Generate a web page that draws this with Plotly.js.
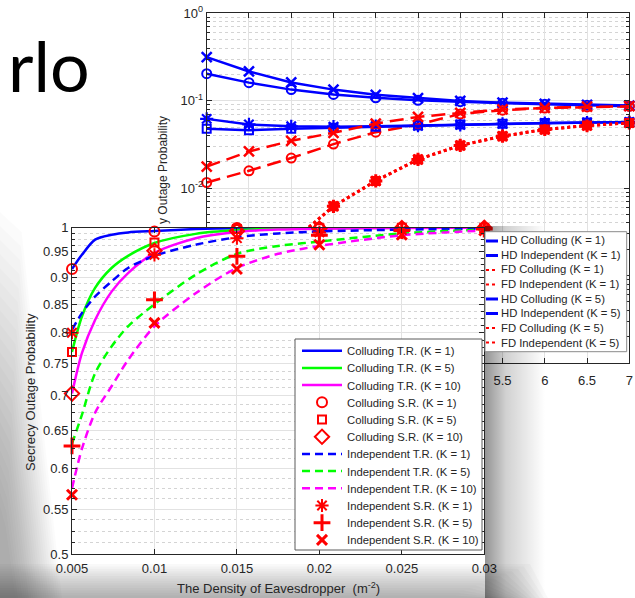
<!DOCTYPE html>
<html><head><meta charset="utf-8">
<script src="https://cdn.plot.ly/plotly-3.0.1.min.js"></script>
<style>html,body{margin:0;padding:0;background:#fff;} #chart{width:635px;height:598px;}</style>
</head><body><div id="chart"></div>
<script>
// ================= BACK CHART (HD / FD) — log scale =================
const backX = [2, 2.5, 3, 3.5, 4, 4.5, 5, 5.5, 6, 6.5, 7];
const hdColl1  = [0.204, 0.161, 0.134, 0.118, 0.108, 0.101, 0.0975, 0.0935, 0.091, 0.089, 0.0865];
const hdIndep1 = [0.062, 0.0535, 0.051, 0.0505, 0.0512, 0.0518, 0.0530, 0.0543, 0.0555, 0.0563, 0.057];
const fdColl1  = [0.0116, 0.0158, 0.0221, 0.0319, 0.0437, 0.0535, 0.0705, 0.078, 0.0825, 0.085, 0.0863];
const fdIndep1 = [0.0002, 0.0007, 0.0024, 0.0062, 0.0121, 0.0213, 0.0308, 0.0393, 0.0469, 0.052, 0.0558];
const hdColl5  = [0.315, 0.216, 0.162, 0.134, 0.117, 0.107, 0.0994, 0.095, 0.092, 0.0895, 0.088];
const hdIndep5 = [0.0478, 0.046, 0.0478, 0.049, 0.0505, 0.052, 0.0533, 0.0545, 0.0555, 0.0562, 0.0568];
const fdColl5  = [0.0176, 0.0263, 0.0348, 0.043, 0.0548, 0.0653, 0.0725, 0.0795, 0.083, 0.0855, 0.0865];
const fdIndep5 = [0.0002, 0.0007, 0.0024, 0.0062, 0.0121, 0.0213, 0.0308, 0.0393, 0.0469, 0.052, 0.0558];
const backNames = ['HD Colluding (K = 1)', 'HD Independent (K = 1)', 'FD Colluding (K = 1)', 'FD Independent (K = 1)',
                   'HD Colluding (K = 5)', 'HD Independent (K = 5)', 'FD Colluding (K = 5)', 'FD Independent (K = 5)'];
// only the tick labels not hidden behind the front figure are shown
const backXTicks = [2, 2.5, 3, 3.5, 4, 4.5, 5, 5.5, 6, 6.5, 7];
const backXTickText = ['', '', '', '', '', '', '', '5.5', '6', '6.5', '7'];
const backYTickVals = [1e-4, 1e-3, 1e-2, 1e-1, 1];
const backYTickText = ['', '', '10<sup>-2</sup>', '10<sup>-1</sup>', '10<sup>0</sup>'];
const backYTitle = 'y Outage Probability';   // visible part of "Secrecy Outage Probability"

// ================= FRONT CHART (T.R. / S.R.) =================
const frontCurveX = [0.005, 0.0056, 0.0064, 0.0074, 0.0084, 0.01, 0.0125, 0.015, 0.0175, 0.02, 0.025, 0.03];
const collTR1  = [0.916, 0.944, 0.975, 0.985, 0.990, 0.993, 0.997, 0.999, 0.9995, 0.9997, 0.9999, 0.9999];
const collTR5  = [0.768, 0.828, 0.880, 0.918, 0.942, 0.968, 0.987, 0.995, 0.998, 0.999, 0.9998, 0.9999];
const collTR10 = [0.703, 0.766, 0.822, 0.873, 0.908, 0.948, 0.978, 0.991, 0.996, 0.998, 0.9995, 0.9999];
const indTR1   = [0.805, 0.834, 0.864, 0.892, 0.918, 0.942, 0.9645, 0.980, 0.988, 0.992, 0.996, 0.998];
const indTR5   = [0.632, 0.672, 0.734, 0.777, 0.811, 0.850, 0.905, 0.946, 0.962, 0.971, 0.988, 0.996];
const indTR10  = [0.575, 0.625, 0.675, 0.714, 0.755, 0.811, 0.870, 0.918, 0.946, 0.962, 0.984, 0.994];
const frontMarkX = [0.005, 0.01, 0.015, 0.02, 0.025, 0.03];
const collSR1  = [0.916, 0.992, 0.9995, 0.9997, 0.9998, 0.9999];
const collSR5  = [0.768, 0.969, 0.997, 0.999, 0.9998, 0.9999];
const collSR10 = [0.703, 0.952, 0.993, 0.998, 0.9995, 0.9999];
const indSR1   = [0.800, 0.944, 0.978, 0.990, 0.995, 0.998];
const indSR5   = [0.629, 0.858, 0.941, 0.984, 0.994, 0.997];
const indSR10  = [0.567, 0.817, 0.916, 0.9645, 0.985, 0.994];
const frontNames = ['Colluding T.R. (K = 1)', 'Colluding T.R. (K = 5)', 'Colluding T.R. (K = 10)',
                    'Colluding S.R. (K = 1)', 'Colluding S.R. (K = 5)', 'Colluding S.R. (K = 10)',
                    'Independent T.R. (K = 1)', 'Independent T.R. (K = 5)', 'Independent T.R. (K = 10)',
                    'Independent S.R. (K = 1)', 'Independent S.R. (K = 5)', 'Independent S.R. (K = 10)'];
const frontXTickVals = [0.005, 0.01, 0.015, 0.02, 0.025, 0.03];
const frontXTickText = ['0.005', '0.01', '0.015', '0.02', '0.025', '0.03'];
const frontYTickVals = [0.5, 0.55, 0.6, 0.65, 0.7, 0.75, 0.8, 0.85, 0.9, 0.95, 1];
const frontYTickText = ['0.5', '0.55', '0.6', '0.65', '0.7', '0.75', '0.8', '0.85', '0.9', '0.95', '1'];
const frontXTitle = 'The Density of Eavesdropper  (m<sup>-2</sup>)';
const frontYTitle = 'Secrecy Outage Probability';
const slideText = 'rlo';

// ---------------- layout helpers ----------------
const W = 635, H = 598;
const px = v => v / W, py = v => 1 - v / H;
const FONT = 'Liberation Sans, Arial, Helvetica, sans-serif';
const TXT = '#262626';
const BLUE = '#0000ff', RED = '#ff0000', GREEN = '#00ff00', MAG = '#ff00ff';

// minor tick positions
const backYMinor = [];
for (let e = -4; e < 0; e++) for (let m = 2; m <= 9; m++) backYMinor.push(m * Math.pow(10, e));
const frontYMinor = [];
for (let i = 0; i < frontYTickVals.length - 1; i++)
  for (let k = 1; k <= 3; k++) frontYMinor.push(frontYTickVals[i] + k * 0.0125);

const traces = [];
function backTrace(y, color, dash, width, symbol, size, mw) {
  traces.push({x: backX, y: y, xaxis: 'x', yaxis: 'y', mode: 'lines+markers', showlegend: false,
    cliponaxis: false, hoverinfo: 'skip',
    line: {color: color, dash: dash, width: width},
    marker: {symbol: symbol, size: size, color: color, line: {color: color, width: mw}}});
}
backTrace(hdColl1, BLUE, 'solid', 2.5, 'circle-open', 9, 2);
backTrace(hdIndep1, BLUE, 'solid', 2.5, 'asterisk-open', 11, 2.2);
backTrace(fdColl1, RED, '14px,7px', 2.5, 'circle-open', 9, 2);
backTrace(fdIndep1, RED, 'dot', 3, 'asterisk-open', 11, 3);
backTrace(hdColl5, BLUE, 'solid', 2.5, 'x-thin-open', 10, 2.5);
backTrace(hdIndep5, BLUE, 'solid', 2.5, 'square-open', 8, 2);
backTrace(fdColl5, RED, '14px,7px', 2.5, 'x-thin-open', 10, 2.5);
backTrace(fdIndep5, RED, 'dot', 3, 'square', 8, 2);

function lg(i) { return i === 0 ? 'legend' : 'legend' + (i + 1); }
function frontLine(i, y, color, dash) {
  traces.push({x: frontCurveX, y: y, xaxis: 'x2', yaxis: 'y2', mode: 'lines', name: frontNames[i],
    legend: lg(i), hoverinfo: 'skip',
    line: {color: color, width: 2.5, dash: dash, shape: 'spline', smoothing: 0.8}});
}
function frontMark(i, y, symbol, size, mw) {
  traces.push({x: frontMarkX, y: y, xaxis: 'x2', yaxis: 'y2', mode: 'markers', name: frontNames[i],
    legend: lg(i), cliponaxis: false, hoverinfo: 'skip',
    marker: {symbol: symbol, size: size, color: RED, line: {color: RED, width: mw}}});
}
frontLine(0, collTR1, BLUE, 'solid');
frontLine(1, collTR5, GREEN, 'solid');
frontLine(2, collTR10, MAG, 'solid');
frontMark(3, collSR1, 'circle-open', 10, 2);
frontMark(4, collSR5, 'square-open', 8, 2);
frontMark(5, collSR10, 'diamond-open', 11, 2);
frontLine(6, indTR1, BLUE, '8px,5px');
frontLine(7, indTR5, GREEN, '8px,5px');
frontLine(8, indTR10, MAG, '8px,5px');
frontMark(9, indSR1, 'asterisk-open', 11, 2);
frontMark(10, indSR5, 'cross-thin-open', 12, 3);
frontMark(11, indSR10, 'x-thin-open', 10, 3);

const axisCommon = {showline: true, linecolor: TXT, linewidth: 1, mirror: 'allticks', ticks: 'inside',
  ticklen: 5, tickcolor: TXT, tickwidth: 1, showgrid: true, gridcolor: '#e2e2e2', gridwidth: 1,
  zeroline: false, tickfont: {family: FONT, size: 13, color: TXT}, fixedrange: true};

const layout = {
  width: W, height: H, margin: {l: 0, r: 0, t: 0, b: 0},
  paper_bgcolor: '#ffffff', plot_bgcolor: '#ffffff', hovermode: false,
  xaxis: Object.assign({}, axisCommon, {domain: [px(206.7), px(629.3)], anchor: 'y', range: [2, 7],
    tickmode: 'array', tickvals: backXTicks, ticktext: backXTickText, ticklabelstandoff: 5}),
  yaxis: Object.assign({}, axisCommon, {domain: [py(363), py(13.3)], anchor: 'x', type: 'log', range: [-4, 0],
    tickmode: 'array', tickvals: backYTickVals, ticktext: backYTickText,
    minor: {tickmode: 'array', tickvals: backYMinor, ticks: 'inside', ticklen: 3, tickcolor: TXT,
      showgrid: true, gridcolor: '#d4d4d4', griddash: 'dot', gridwidth: 1}}),
  xaxis2: Object.assign({}, axisCommon, {domain: [px(72), px(484.3)], anchor: 'y2', range: [0.005, 0.03],
    tickmode: 'array', tickvals: frontXTickVals, ticktext: frontXTickText, ticklabelstandoff: 2}),
  yaxis2: Object.assign({}, axisCommon, {domain: [py(554), py(227.7)], anchor: 'x2', type: 'log',
    range: [Math.log10(0.5), 0], tickmode: 'array', tickvals: frontYTickVals, ticktext: frontYTickText,
    minor: {tickmode: 'array', tickvals: frontYMinor, ticks: 'inside', ticklen: 3, tickcolor: TXT,
      showgrid: true, gridcolor: '#d4d4d4', griddash: 'dot', gridwidth: 1}}),
  shapes: [],
  annotations: [],
  images: []
};

// ---- front legends: one per entry so spacing matches ----
const fLegTop = 350.7, fLegStep = 17.2;
frontNames.forEach((n, i) => {
  layout[lg(i)] = {x: px(297), xanchor: 'left', y: py(fLegTop + i * fLegStep), yanchor: 'middle',
    bgcolor: 'rgba(0,0,0,0)', borderwidth: 0, itemwidth: 40, tracegroupgap: 0,
    font: {family: FONT, size: 11.3, color: TXT}};
});

// ---- soft shadow of the front figure (decor) ----
const P = (x, y) => px(x).toFixed(5) + ',' + py(y).toFixed(5);
for (let k = 0; k < 22; k++) {          // left
  const top = 212 + k * 14, wb = 62 - k * 2.2;
  layout.shapes.push({type: 'path', xref: 'paper', yref: 'paper', layer: 'below', line: {width: 0},
    path: 'M' + P(0, top) + 'L' + P(wb * 0.35, top + 20) + 'L' + P(wb, 598) + 'L' + P(0, 598) + 'Z',
    fillcolor: 'rgba(0,0,0,0.014)'});
}
for (let k = 0; k < 14; k++) {          // bottom
  layout.shapes.push({type: 'path', xref: 'paper', yref: 'paper', layer: 'below', line: {width: 0},
    path: 'M' + P(0, 564 + k * 2.4) + 'L' + P(530 - k * 6, 564 + k * 2.4) + 'L' + P(548 - k * 4, 598) + 'L' + P(0, 598) + 'Z',
    fillcolor: 'rgba(0,0,0,0.024)'});
}
// front legend box
layout.shapes.push({type: 'rect', xref: 'paper', yref: 'paper', layer: 'above',
  x0: px(295), x1: px(482), y0: py(550), y1: py(339), fillcolor: '#ffffff', line: {color: '#5a5a5a', width: 1}});
// back legend box
layout.shapes.push({type: 'rect', xref: 'paper', yref: 'paper', layer: 'above',
  x0: px(485), x1: px(626.7), y0: py(351.7), y1: py(231.7), fillcolor: '#ffffff', line: {color: '#8a8a8a', width: 1}});
// back legend keys
const bLegTop = 241, bLegStep = 14.5;
const backKeyStyle = [[BLUE, 'solid', 3], [BLUE, 'solid', 3], [RED, 'dot', 2], [RED, 'dot', 2],
                      [BLUE, 'solid', 3], [BLUE, 'solid', 3], [RED, 'dot', 2], [RED, 'dot', 2]];
backNames.forEach((n, i) => {
  const s = backKeyStyle[i];
  layout.shapes.push({type: 'line', xref: 'paper', yref: 'paper', layer: 'above',
    x0: px(486), x1: px(498), y0: py(bLegTop + i * bLegStep), y1: py(bLegTop + i * bLegStep),
    line: {color: s[0], dash: s[1], width: s[2]}});
});
// right shadow: a gradient image (inline SVG, no network) laid over the back chart
const shadowSvg = '<svg xmlns="http://www.w3.org/2000/svg" width="60" height="372" viewBox="0 0 60 372" preserveAspectRatio="none">' +
  '<defs><linearGradient id="g" x1="0" y1="0" x2="1" y2="0">' +
  '<stop offset="0" stop-color="#000" stop-opacity="0.42"/>' +
  '<stop offset="0.35" stop-color="#000" stop-opacity="0.18"/>' +
  '<stop offset="1" stop-color="#000" stop-opacity="0"/></linearGradient>' +
  '<linearGradient id="v" x1="0" y1="0" x2="0" y2="1">' +
  '<stop offset="0" stop-color="#fff" stop-opacity="0"/>' +
  '<stop offset="1" stop-color="#fff" stop-opacity="0"/></linearGradient></defs>' +
  '<rect x="0" y="0" width="60" height="372" fill="url(#g)"/></svg>';
layout.images.push({source: 'data:image/svg+xml;charset=utf-8,' + encodeURIComponent(shadowSvg),
  xref: 'paper', yref: 'paper', x: px(485), y: py(226), sizex: 60 / W, sizey: 372 / H,
  xanchor: 'left', yanchor: 'top', sizing: 'stretch', layer: 'above', opacity: 1});

// ---- text ----
layout.annotations.push({text: backNames.join('<br>'), xref: 'paper', yref: 'paper', x: px(499), xanchor: 'left',
  y: py(bLegTop + 3.5 * bLegStep), yanchor: 'middle', align: 'left', showarrow: false,
  font: {family: FONT, size: 11.3, color: TXT}});
layout.annotations.push({text: frontXTitle, xref: 'paper', yref: 'paper', x: px(278), xanchor: 'center',
  y: py(588), yanchor: 'middle', showarrow: false, font: {family: FONT, size: 13, color: TXT}});
layout.annotations.push({text: frontYTitle, xref: 'paper', yref: 'paper', x: px(30), xanchor: 'center',
  y: py(392), yanchor: 'middle', textangle: -90, showarrow: false, font: {family: FONT, size: 13, color: TXT}});
layout.annotations.push({text: backYTitle, xref: 'paper', yref: 'paper', x: px(163), xanchor: 'center',
  y: py(170), yanchor: 'middle', textangle: -90, showarrow: false, font: {family: FONT, size: 12, color: TXT}});
layout.annotations.push({text: slideText, xref: 'paper', yref: 'paper', x: px(6), xanchor: 'left',
  y: py(65), yanchor: 'middle', showarrow: false, font: {family: 'Lato, Carlito, sans-serif', size: 70, color: '#000'}});

Plotly.newPlot('chart', traces, layout, {staticPlot: true, displayModeBar: false});
</script>
</body></html>
